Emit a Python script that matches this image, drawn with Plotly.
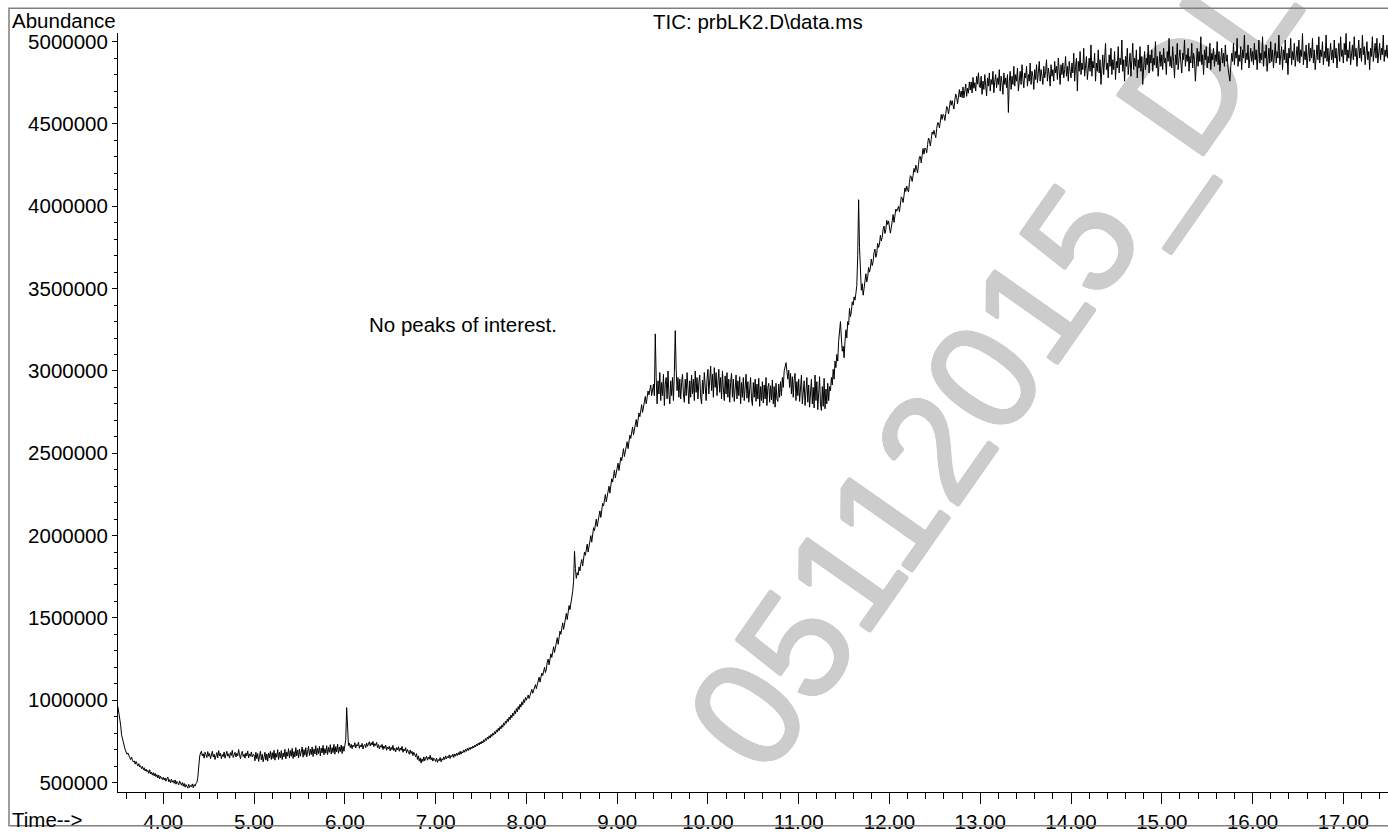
import plotly.graph_objects as go

FONT = "Liberation Sans, Arial, Helvetica, sans-serif"
TXT = 20.5

# Total ion chromatogram: abundance in thousands, one scan every 0.01 min,
# one list per minute of run time
SCAN_STEP = 0.01
tic_03 = [960, 930, 880, 850, 790, 760, 735, 722, 700, 690,
          672, 680, 660, 652, 640, 655, 636, 625, 632, 612,
          628, 606, 600, 615, 594, 602, 585, 597, 578, 590,
          570, 582, 566, 574, 556, 578, 552, 563, 545, 560,
          540, 556, 536, 548, 528, 545, 522, 538, 530, 518]
tic_04 = [532, 515, 528, 508, 522, 534, 505, 518, 498, 520,
          502, 512, 495, 516, 490, 507, 499, 486, 510, 492,
          484, 500, 478, 495, 472, 488, 480, 466, 490, 470,
          482, 475, 492, 468, 488, 478, 495, 500, 530, 600,
          655, 680, 690, 662, 675, 648, 684, 670, 652, 688,
          660, 676, 645, 668, 690, 655, 672, 640, 665, 682,
          650, 694, 662, 678, 645, 670, 658, 686, 648, 672,
          690, 660, 675, 648, 682, 665, 696, 652, 670, 684,
          655, 678, 662, 700, 668, 645, 676, 690, 658, 672,
          648, 680, 662, 692, 650, 674, 660, 686, 655, 670]
tic_05 = [668, 632, 684, 645, 676, 628, 660, 690, 638, 672,
          626, 664, 684, 636, 674, 630, 680, 650, 690, 640,
          682, 646, 696, 636, 678, 654, 700, 640, 684, 650,
          694, 640, 680, 656, 702, 644, 686, 660, 706, 650,
          694, 660, 708, 646, 688, 656, 712, 662, 698, 650,
          704, 660, 690, 716, 654, 700, 666, 712, 656, 696,
          720, 664, 702, 670, 716, 658, 704, 674, 724, 666,
          708, 676, 720, 662, 710, 680, 726, 668, 706, 678,
          724, 670, 714, 684, 730, 674, 712, 682, 732, 672,
          718, 686, 734, 678, 716, 688, 728, 676, 720, 690]
tic_06 = [715, 760, 955, 760, 725, 740, 712, 732, 706, 728,
          718, 742, 710, 730, 722, 745, 708, 726, 716, 738,
          704, 724, 732, 712, 740, 720, 735, 748, 722, 742,
          728, 750, 718, 736, 725, 744, 712, 730, 705, 724,
          714, 732, 700, 722, 708, 728, 696, 716, 704, 720,
          692, 714, 700, 726, 694, 708, 686, 712, 698, 718,
          690, 710, 696, 720, 684, 704, 692, 712, 680, 700,
          688, 672, 698, 676, 690, 664, 684, 670, 656, 676,
          640, 662, 630, 650, 618, 644, 628, 656, 632, 648,
          660, 636, 654, 642, 666, 638, 652, 630, 648, 640]
tic_07 = [628, 648, 622, 640, 632, 652, 626, 645, 636, 656,
          640, 662, 644, 658, 650, 668, 646, 664, 656, 672,
          652, 674, 660, 678, 664, 682, 668, 690, 672, 688,
          680, 698, 684, 702, 690, 708, 694, 712, 700, 716,
          706, 722, 710, 728, 716, 734, 722, 740, 728, 746,
          734, 752, 740, 760, 748, 768, 756, 776, 764, 784,
          770, 792, 780, 800, 788, 810, 796, 820, 806, 830,
          814, 840, 826, 850, 836, 862, 848, 874, 860, 886,
          870, 898, 882, 910, 894, 922, 906, 936, 918, 950,
          930, 962, 944, 976, 958, 990, 972, 1004, 986, 1018]
tic_08 = [1000, 1015, 1032, 1010, 1028, 1050, 1066, 1042, 1060, 1082,
          1095, 1070, 1092, 1125, 1140, 1110, 1132, 1165, 1150, 1178,
          1200, 1168, 1190, 1232, 1250, 1215, 1240, 1282, 1260, 1290,
          1325, 1290, 1318, 1365, 1380, 1340, 1372, 1420, 1400, 1432,
          1470, 1430, 1462, 1510, 1528, 1490, 1522, 1575, 1550, 1580,
          1625, 1660, 1720, 1905, 1800, 1740, 1775, 1760, 1810, 1785,
          1830, 1855, 1815, 1850, 1900, 1880, 1910, 1948, 1900, 1935,
          1985, 2000, 1960, 1995, 2048, 2030, 2060, 2100, 2055, 2085,
          2135, 2150, 2110, 2145, 2195, 2180, 2208, 2250, 2205, 2235,
          2285, 2300, 2258, 2290, 2345, 2325, 2352, 2398, 2350, 2380]
tic_09 = [2420, 2440, 2395, 2425, 2475, 2455, 2485, 2528, 2480, 2510,
          2555, 2570, 2528, 2560, 2610, 2590, 2618, 2660, 2612, 2642,
          2690, 2705, 2660, 2692, 2745, 2722, 2750, 2795, 2748, 2778,
          2830, 2845, 2800, 2830, 2878, 2855, 2880, 2915, 2850, 2880,
          2920, 2850, 3225, 2960, 2800, 2940, 2860, 2990, 2820, 2930,
          2850, 2980, 2790, 2920, 2960, 2830, 3000, 2860, 2800, 2940,
          2850, 2960, 2820, 2990, 3245, 3010, 2880, 2960, 2840, 2950,
          2830, 2930, 2980, 2860, 2810, 2950, 2850, 2990, 2870, 2800,
          2940, 2840, 2975, 2860, 2950, 2820, 3000, 2870, 2960, 2830,
          2930, 2975, 2840, 2800, 2945, 2860, 2990, 2875, 2820, 2950]
tic_10 = [3010, 2860, 2960, 3030, 2880, 2980, 2840, 3020, 2900, 2990,
          2850, 2970, 3010, 2870, 2960, 2830, 3000, 2890, 2820, 2970,
          2860, 2990, 2840, 2950, 2810, 2930, 2985, 2840, 2950, 2815,
          2920, 2975, 2830, 2940, 2850, 2965, 2800, 2930, 2840, 2960,
          2820, 2920, 2980, 2835, 2935, 2810, 2910, 2960, 2830, 2790,
          2930, 2840, 2950, 2815, 2920, 2830, 2955, 2785, 2905, 2820,
          2935, 2805, 2915, 2830, 2960, 2790, 2900, 2925, 2810, 2910,
          2825, 2945, 2800, 2905, 2780, 2925, 2830, 2815, 2920, 2840,
          2935, 2850, 2960, 2900, 3000, 3030, 3050, 3000, 2950, 3005,
          2900, 2985, 2860, 2965, 2840, 2950, 2985, 2820, 2935, 2850]
tic_11 = [2950, 2815, 2915, 2975, 2800, 2905, 2940, 2790, 2895, 2960,
          2810, 2915, 2780, 2885, 2950, 2800, 2900, 2775, 2975, 2820,
          2935, 2765, 2885, 2965, 2795, 2760, 2905, 2785, 2955, 2770,
          2890, 2800, 2925, 2820, 2905, 2880, 2960, 2915, 3010, 2950,
          3060, 3020, 3100, 3060, 3180, 3240, 3300, 3200, 3120, 3150,
          3080, 3180, 3250, 3200, 3300, 3280, 3380, 3330, 3360, 3420,
          3400, 3450, 3430, 3470, 3520, 3700, 4040, 3750, 3560, 3490,
          3530, 3460, 3500, 3570, 3590, 3540, 3570, 3630, 3600, 3625,
          3680, 3640, 3665, 3720, 3740, 3690, 3715, 3775, 3750, 3770,
          3825, 3790, 3810, 3860, 3880, 3835, 3860, 3915, 3890, 3910]
tic_12 = [3860, 3837, 3870, 3923, 3950, 3902, 3935, 3983, 3970, 3992,
          4000, 3967, 4005, 4057, 4050, 4023, 4065, 4112, 4090, 4123,
          4100, 4087, 4144, 4186, 4178, 4151, 4188, 4230, 4207, 4250,
          4227, 4203, 4255, 4301, 4302, 4263, 4310, 4351, 4317, 4354,
          4350, 4325, 4375, 4415, 4401, 4366, 4406, 4451, 4437, 4462,
          4437, 4417, 4472, 4507, 4507, 4477, 4512, 4558, 4528, 4558,
          4553, 4521, 4563, 4606, 4599, 4561, 4594, 4642, 4614, 4642,
          4615, 4591, 4646, 4682, 4662, 4623, 4663, 4709, 4664, 4700,
          4660, 4725, 4659, 4714, 4743, 4668, 4717, 4687, 4756, 4706,
          4755, 4689, 4783, 4717, 4751, 4700, 4789, 4742, 4811, 4730]
tic_13 = [4720, 4790, 4680, 4760, 4710, 4800, 4740, 4670, 4780, 4730,
          4810, 4700, 4770, 4740, 4820, 4690, 4760, 4800, 4720, 4780,
          4740, 4830, 4700, 4790, 4750, 4680, 4810, 4740, 4780, 4720,
          4800, 4570, 4760, 4820, 4710, 4790, 4740, 4850, 4730, 4800,
          4760, 4840, 4700, 4790, 4820, 4740, 4860, 4770, 4720, 4810,
          4780, 4850, 4730, 4800, 4760, 4870, 4740, 4820, 4790, 4710,
          4830, 4770, 4860, 4750, 4810, 4880, 4760, 4830, 4790, 4740,
          4850, 4780, 4820, 4890, 4760, 4840, 4800, 4730, 4860, 4790,
          4830, 4760, 4880, 4810, 4850, 4770, 4900, 4800, 4740, 4860,
          4800, 4870, 4780, 4830, 4910, 4790, 4850, 4760, 4880, 4820]
tic_14 = [4780, 4870, 4810, 4930, 4760, 4850, 4900, 4700, 4880, 4820,
          4940, 4800, 4870, 4830, 4960, 4790, 4860, 4910, 4770, 4850,
          4900, 4820, 4980, 4790, 4880, 4840, 4930, 4760, 4870, 4820,
          4950, 4810, 4890, 4740, 4860, 4920, 4800, 4880, 4990, 4830,
          4870, 4780, 4920, 4850, 4960, 4800, 4890, 4830, 4940, 4770,
          4880, 4840, 4970, 4810, 4900, 4860, 5010, 4820, 4890, 4760,
          4910, 4850, 4960, 4800, 4880, 4930, 4790, 4870, 4990, 4830,
          4900, 4850, 4950, 4780, 4890, 4840, 4970, 4820, 4910, 4740,
          4880, 4940, 4830, 4900, 4860, 4980, 4810, 4920, 4870, 4950,
          4820, 4900, 4860, 5000, 4840, 4910, 4790, 4880, 4940, 4850]
tic_15 = [4920, 4830, 4960, 4870, 4900, 4800, 4940, 4880, 5020, 4850,
          4910, 4840, 4970, 4880, 4780, 4920, 4860, 4990, 4830, 4900,
          4950, 4870, 4810, 4930, 4890, 5010, 4850, 4920, 4880, 4960,
          4820, 4910, 4870, 4990, 4840, 4930, 4890, 4760, 4900, 4960,
          4850, 4940, 4880, 5030, 4860, 4920, 4800, 4950, 4890, 4970,
          4840, 4910, 4870, 4990, 4830, 4930, 4890, 4960, 4850, 4920,
          4880, 5000, 4860, 4940, 4820, 4910, 4960, 4870, 4930, 4850,
          4980, 4880, 4920, 4840, 4790, 4760, 4850, 4930, 4880, 4990,
          4860, 4940, 4900, 5020, 4850, 4920, 4880, 4970, 4830, 4950,
          4900, 5040, 4870, 4930, 4890, 4980, 4840, 4920, 4960, 4880]
tic_16 = [4940, 4860, 4990, 4890, 4950, 4830, 4920, 5010, 4870, 4930,
          4890, 5030, 4850, 4940, 4900, 4980, 4820, 4920, 4960, 4870,
          5000, 4880, 4950, 4840, 4930, 4990, 4870, 4940, 4900, 5040,
          4860, 4920, 4970, 4830, 4950, 4890, 5010, 4870, 4930, 4800,
          4960, 4900, 5020, 4860, 4940, 4890, 4990, 4850, 4930, 4970,
          4880, 5010, 4870, 4950, 4910, 5050, 4860, 4940, 4890, 4980,
          4840, 4930, 4990, 4880, 4960, 4900, 5020, 4870, 4950, 4830,
          4920, 4980, 4890, 5030, 4870, 4950, 4910, 5000, 4860, 4940,
          4900, 5040, 4880, 4960, 4850, 4930, 4990, 4890, 4950, 4870,
          5010, 4900, 4960, 4840, 4940, 4990, 4880, 5030, 4910, 4950]
tic_17 = [4870, 4990, 4920, 5050, 4880, 4950, 4900, 5000, 4860, 4940,
          4980, 4890, 5030, 4910, 4960, 4850, 4940, 5010, 4900, 4960,
          4880, 5040, 4920, 4970, 4860, 4950, 5000, 4890, 4940, 4830,
          4960, 4910, 5030, 4880, 4950, 4990, 4900, 5020, 4870, 4940,
          4990, 4890, 4960, 4920, 5040, 4880, 4950, 4910, 4980, 4900,
          4960]

segment_starts = [3.5, 4.0, 5.0, 6.0, 7.0, 8.0, 9.0, 10.0, 11.0, 12.0, 13.0, 14.0, 15.0, 16.0, 17.0]
segments = [tic_03, tic_04, tic_05, tic_06, tic_07, tic_08, tic_09, tic_10, tic_11,
            tic_12, tic_13, tic_14, tic_15, tic_16, tic_17]

x_tick_vals = [4, 5, 6, 7, 8, 9, 10, 11, 12, 13, 14, 15, 16, 17]
x_tick_text = ["4.00", "5.00", "6.00", "7.00", "8.00", "9.00", "10.00", "11.00",
               "12.00", "13.00", "14.00", "15.00", "16.00", "17.00"]
y_tick_vals = [500000, 1000000, 1500000, 2000000, 2500000, 3000000, 3500000,
               4000000, 4500000, 5000000]
y_tick_text = ["500000", "1000000", "1500000", "2000000", "2500000", "3000000",
               "3500000", "4000000", "4500000", "5000000"]

times, abundance = [], []
for start, seg in zip(segment_starts, segments):
    for i, v in enumerate(seg):
        times.append(round(start + SCAN_STEP * i, 3))
        abundance.append(v * 1000)

fig = go.Figure()
fig.add_trace(go.Scatter(x=times, y=abundance, mode="lines",
                         line=dict(color="black", width=1), hoverinfo="skip"))

W, H = 1388, 833
ML, MR, MT, MB = 118, 0, 33, 37
PW, PH = W - ML - MR, H - MT - MB


def px_x(p):
    return (p - ML) / PW


def px_y(p):
    return (H - MB - p) / PH


fig.update_layout(
    width=W, height=H,
    margin=dict(l=ML, r=MR, t=MT, b=MB, pad=0),
    paper_bgcolor="white", plot_bgcolor="white",
    showlegend=False,
    font=dict(family=FONT, size=TXT, color="black"),
    xaxis=dict(range=[3.501, 17.492], showgrid=False, zeroline=False,
               showline=True, linecolor="black", linewidth=1,
               ticks="outside", ticklen=11, tickwidth=1, tickcolor="black",
               tickvals=x_tick_vals, ticktext=x_tick_text,
               tickfont=dict(family=FONT, size=TXT, color="black"),
               minor=dict(dtick=0.2, tick0=4, ticks="outside", ticklen=6,
                          tickwidth=1, tickcolor="black", showgrid=False)),
    yaxis=dict(range=[442600, 5052600], showgrid=False, zeroline=False,
               showline=True, linecolor="black", linewidth=1,
               ticks="outside", ticklen=5, tickwidth=1, tickcolor="black",
               tickvals=y_tick_vals, ticktext=y_tick_text,
               tickfont=dict(family=FONT, size=TXT, color="black"),
               minor=dict(dtick=100000, tick0=0, ticks="outside", ticklen=3,
                          tickwidth=1, tickcolor="black", showgrid=False)),
)

# outer frame of the report page
fig.add_shape(type="rect", xref="paper", yref="paper",
              x0=px_x(9), x1=px_x(1420), y0=px_y(830), y1=px_y(8),
              line=dict(color="#7f7f7f", width=1.5), fillcolor="rgba(0,0,0,0)",
              layer="above")

# diagonal watermark behind the trace; a thin ring of shadows widens the strokes slightly
WM_GREY = "#cccccc"
thick = ", ".join(f"{dx}px {dy}px 0 {WM_GREY}" for dx, dy in
                  [(1.5, 0), (-1.5, 0), (0, 1.5), (0, -1.5),
                   (1.1, 1.1), (-1.1, 1.1), (1.1, -1.1), (-1.1, -1.1)])
wm_cx, wm_cy = 982, 356
fig.add_shape(type="rect", xref="paper", yref="paper",
              x0=px_x(wm_cx - 2), x1=px_x(wm_cx + 2), y0=px_y(wm_cy + 2), y1=px_y(wm_cy - 2),
              line=dict(width=0), fillcolor="rgba(0,0,0,0)", layer="below",
              label=dict(text="05112015_DL", textangle=-55, textposition="middle center",
                         font=dict(family=FONT, size=152, color=WM_GREY, shadow=thick)))

ann = dict(xref="paper", yref="paper", showarrow=False,
           font=dict(family=FONT, size=TXT, color="black"))
fig.add_annotation(text="Abundance", x=px_x(10), y=px_y(20), xanchor="left", yanchor="middle", **ann)
fig.add_annotation(text="TIC: prbLK2.D\\data.ms", x=px_x(758), y=px_y(21), xanchor="center", yanchor="middle", **ann)
fig.add_annotation(text="Time-->", x=px_x(10), y=px_y(824), xanchor="left", yanchor="middle", **ann)
fig.add_annotation(text="No peaks of interest.", x=px_x(367), y=px_y(326), xanchor="left", yanchor="middle", **ann)

fig.write_html("out.html")
